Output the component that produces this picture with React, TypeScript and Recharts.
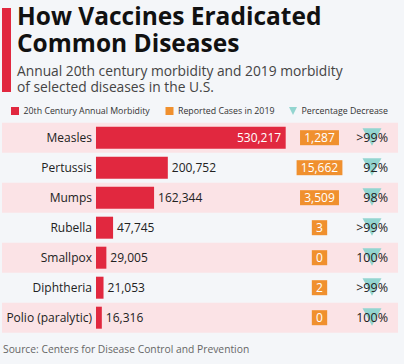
import React from 'react';
import {
  ComposedChart,
  Bar,
  XAxis,
  YAxis,
  ReferenceArea,
  LabelList
} from 'recharts';

const diseases = ['Measles', 'Pertussis', 'Mumps', 'Rubella', 'Smallpox', 'Diphtheria', 'Polio (paralytic)'];
const morbidity20th = [530217, 200752, 162344, 47745, 29005, 21053, 16316];
const cases2019 = [1287, 15662, 3509, 3, 0, 2, 0];
const pctDecrease = ['>99%', '92%', '98%', '>99%', '100%', '>99%', '100%'];

const RED = '#e1283f';
const ORANGE = '#f0902e';
const TEAL = '#93d5d0';
const BAND = '#fbe3e6';
const BG = '#f4f6f9';
const FONT = '"Open Sans", sans-serif';

const data = diseases.map((name, i) => ({
  name,
  morbidity: morbidity20th[i],
  cases: cases2019[i],
  pct: pctDecrease[i]
}));

const fmt = (v: number) => v.toLocaleString('en-US');

// category name, right aligned just left of the bar start
const NameLabel = (props: any) => {
  const { x, y, height, value } = props;
  return (
    <text x={x - 4} y={y + height / 2} dy={4.3} textAnchor="end" fontSize={12} fill="#222" fontFamily={FONT}>
      {value}
    </text>
  );
};

const ValueLabel = (props: any) => {
  const { x, y, width, height, value } = props;
  const inside = x + width + 60 > 295;
  return (
    <text
      x={inside ? x + width - 4.5 : x + width + 4}
      y={y + height / 2}
      dy={4.3}
      textAnchor={inside ? 'end' : 'start'}
      fontSize={12}
      fill={inside ? '#fff' : '#222'}
      fontFamily={FONT}
    >
      {fmt(value)}
    </text>
  );
};

const CasesLabel = (props: any) => {
  const { y, height, value } = props;
  const txt = fmt(value);
  const digits = txt.replace(/,/g, '').length;
  const commas = txt.length - digits;
  const w = digits * 6.86 + commas * 3 + 8.5;
  const cx = 319.5;
  const cy = y + height / 2;
  return (
    <g>
      <rect x={cx - w / 2} y={cy - 7.5} width={w} height={15} fill={ORANGE} />
      <text x={cx} y={cy} dy={4.3} textAnchor="middle" fontSize={12} fill="#fff" fontFamily={FONT}>
        {txt}
      </text>
    </g>
  );
};

const PctLabel = (props: any) => {
  const { y, height, value } = props;
  const cy = y + height / 2;
  const cx = 372;
  return (
    <g>
      <path d={`M${cx - 9.5},${cy - 9.5} L${cx + 9.5},${cy - 9.5} L${cx},${cy + 8} Z`} fill={TEAL} />
      <text x={388} y={cy} dy={4.5} textAnchor="end" fontSize={12.5} fill="#222" fontFamily={FONT}>
        {value}
      </text>
    </g>
  );
};

const legendItems = [
  { label: '20th Century Annual Morbidity', color: RED, kind: 'square', x: 11 },
  { label: 'Reported Cases in 2019', color: ORANGE, kind: 'square', x: 165.5 },
  { label: 'Percentage Decrease', color: TEAL, kind: 'triangle', x: 289 }
];

const ChartLegend = () => (
  <svg width={404} height={20} style={{ position: 'absolute', left: 0, top: 101 }}>
    {legendItems.map((it) => (
      <g key={it.label}>
        {it.kind === 'square' ? (
          <rect x={it.x} y={6} width={8} height={8} fill={it.color} />
        ) : (
          <path d={`M${it.x},${6} L${it.x + 8},${6} L${it.x + 4},${14} Z`} fill={it.color} />
        )}
        <text x={it.x + 12.5} y={13.3} fontSize={8.8} fill="#333" fontFamily={FONT}>
          {it.label}
        </text>
      </g>
    ))}
  </svg>
);

const line = (top: number, size: number, extra: React.CSSProperties = {}): React.CSSProperties => ({
  position: 'absolute',
  left: 17,
  top,
  fontSize: size,
  lineHeight: 1,
  whiteSpace: 'nowrap',
  ...extra
});

export default function App() {
  return (
    <div style={{ position: 'absolute', left: 0, top: 0, width: 404, height: 364, background: BG, fontFamily: FONT, overflow: 'hidden' }}>
      <div style={{ position: 'absolute', left: 2, top: 8, width: 8.5, height: 83.5, background: RED }} />
      <div style={line(4.3, 24.5, { fontWeight: 700, color: '#111' })}>How Vaccines Eradicated</div>
      <div style={line(30.8, 24.5, { fontWeight: 700, color: '#111' })}>Common Diseases</div>
      <div style={line(64.3, 13.8, { color: '#444' })}>Annual 20th century morbidity and 2019 morbidity</div>
      <div style={line(79.9, 13.8, { color: '#444' })}>of selected diseases in the U.S.</div>
      <ChartLegend />
      <ComposedChart
        width={404}
        height={364}
        data={data}
        layout="vertical"
        margin={{ top: 122.7, right: 6, bottom: 31.3, left: 2 }}
        style={{ position: 'absolute', left: 0, top: 0 }}
      >
        {/* negative domain part leaves room for the names left of the bars */}
        <XAxis type="number" domain={[-262700, 844100]} hide />
        <YAxis type="category" dataKey="name" hide />
        {diseases.map((d, i) =>
          i % 2 === 0 ? (
            <ReferenceArea key={d} y1={d} y2={d} fill={BAND} fillOpacity={1} stroke="none" />
          ) : null
        )}
        <Bar dataKey="morbidity" fill={RED} barSize={22} isAnimationActive={false}>
          <LabelList dataKey="name" content={<NameLabel />} />
          <LabelList dataKey="morbidity" content={<ValueLabel />} />
          <LabelList dataKey="cases" content={<CasesLabel />} />
          <LabelList dataKey="pct" content={<PctLabel />} />
        </Bar>
      </ComposedChart>
      <div style={{ ...line(344.2, 10.3, { color: '#666' }), left: 3 }}>
        Source: Centers for Disease Control and Prevention
      </div>
    </div>
  );
}
